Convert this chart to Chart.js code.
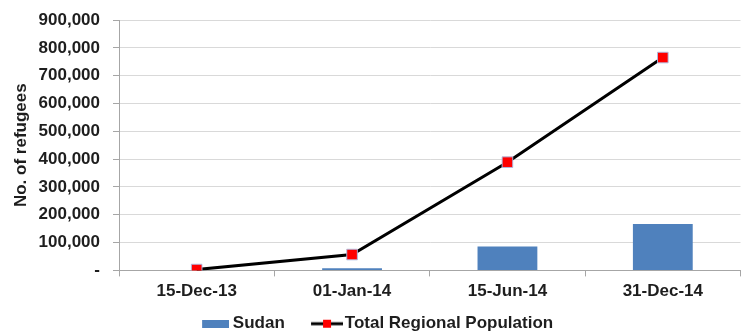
<!DOCTYPE html>
<html>
<head>
<meta charset="utf-8">
<script src="https://cdn.jsdelivr.net/npm/chart.js@4/dist/chart.umd.min.js"></script>
<style>
  html, body { margin: 0; padding: 0; background: #ffffff; }
  #wrap { width: 749px; height: 334px; }
</style>
</head>
<body>
<div id="wrap"><canvas id="chart" width="749" height="334"></canvas></div>
<script>
// Refugee arrivals: Sudan vs. total regional population
const categories = ['15-Dec-13', '01-Jan-14', '15-Jun-14', '31-Dec-14'];
const sudanValues = [0, 8000, 86000, 167000];
const regionalTotal = [3000, 57000, 389000, 765000];
const yTicks = [0, 100000, 200000, 300000, 400000, 500000, 600000, 700000, 800000, 900000];

const FONT = "'Liberation Sans', Arial, sans-serif";
const TEXT = '#1e1e1e';
const BLUE = '#4F81BD';
const RED = '#FF0000';

// Legend swatches: each canvas is centred on the legend box, so the
// drawn part sits at the right end, just before the label text.
const BOX_W = 39.5;
function barSwatch() {
  const c = document.createElement('canvas');
  c.width = 49; c.height = 8;
  const g = c.getContext('2d');
  g.fillStyle = BLUE;
  g.fillRect(c.width - 27, 0, 27, 8);
  return c;
}
function lineSwatch() {
  const c = document.createElement('canvas');
  c.width = 53; c.height = 12;
  const g = c.getContext('2d');
  const x0 = c.width - 32;
  g.strokeStyle = '#000';
  g.lineWidth = 3;
  g.beginPath(); g.moveTo(x0, 6); g.lineTo(x0 + 32, 6); g.stroke();
  g.fillStyle = RED;
  g.fillRect(x0 + 12, 2, 8, 8);
  return c;
}
const swatches = [barSwatch(), lineSwatch()];

new Chart(document.getElementById('chart'), {
  type: 'bar',
  data: {
    labels: categories,
    datasets: [
      {
        type: 'bar',
        label: 'Sudan',
        data: sudanValues,
        backgroundColor: BLUE,
        borderWidth: 0,
        barPercentage: 0.385,
        categoryPercentage: 1,
        order: 2
      },
      {
        type: 'line',
        label: 'Total Regional Population',
        data: regionalTotal,
        borderColor: '#000000',
        borderWidth: 3,
        pointStyle: 'rect',
        pointRadius: 7.5,
        pointBackgroundColor: RED,
        pointBorderColor: 'rgba(170,190,230,0.9)',
        pointBorderWidth: 1,
        tension: 0,
        fill: false,
        order: 1
      }
    ]
  },
  options: {
    responsive: false,
    animation: false,
    layout: { padding: { left: -6, right: 5, top: 20, bottom: -8.2 } },
    plugins: {
      tooltip: { enabled: false },
      legend: {
        position: 'bottom',
        labels: {
          usePointStyle: true,
          pointStyleWidth: BOX_W,
          padding: 12,
          color: TEXT,
          font: { family: FONT, size: 17, weight: 'bold' },
          generateLabels(chart) {
            return chart.data.datasets.map((ds, i) => ({
              text: ds.label,
              pointStyle: swatches[i],
              fillStyle: 'transparent',
              strokeStyle: 'transparent',
              lineWidth: 0,
              fontColor: TEXT,
              datasetIndex: i,
              hidden: false
            }));
          }
        }
      }
    },
    scales: {
      x: {
        offset: true,
        afterFit(scale) { scale.height = 32.8; },
        grid: {
          offset: true,
          drawOnChartArea: false,
          drawTicks: true,
          tickLength: 6,
          color: '#a6a6a6'
        },
        border: { color: '#a6a6a6', width: 1 },
        ticks: {
          color: TEXT,
          padding: 5,
          font: { family: FONT, size: 17, weight: 'bold' }
        }
      },
      y: {
        min: 0,
        max: 900000,
        afterFit(scale) {
          scale.width = 125;
          scale.paddingTop = 0;
          scale.paddingBottom = 0;
        },
        afterBuildTicks(scale) {
          scale.ticks = yTicks.map(v => ({ value: v }));
        },
        grid: {
          color: '#d9d9d9',
          lineWidth: 1,
          drawTicks: true,
          tickLength: 6,
          tickColor: '#a6a6a6'
        },
        border: { color: '#a6a6a6', width: 1 },
        ticks: {
          color: TEXT,
          padding: 13,
          font: { family: FONT, size: 17, weight: 'bold' },
          callback: v => (v === 0 ? '-' : Number(v).toLocaleString('en-US'))
        },
        title: {
          display: true,
          text: 'No. of refugees',
          color: TEXT,
          padding: { top: 17, bottom: 4 },
          font: { family: FONT, size: 17, weight: 'bold' }
        }
      }
    }
  }
});
</script>
</body>
</html>
